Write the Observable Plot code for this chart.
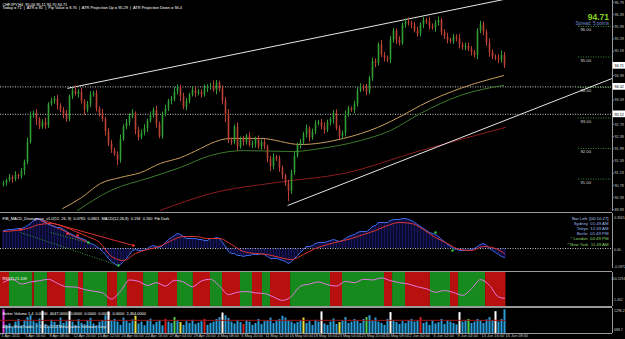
<!DOCTYPE html>
<html><head><meta charset="utf-8">
<script src="https://cdn.jsdelivr.net/npm/d3@7"></script>
<script src="https://cdn.jsdelivr.net/npm/@observablehq/plot@0.6"></script>
<style>
html,body{margin:0;padding:0;background:#000;}
#chart{position:relative;width:625px;height:339px;background:#000;overflow:hidden;}
#chart svg{position:absolute;left:0;}
</style></head>
<body><div id="chart"></div>
<script>
// ---------------- DATA ----------------
const title1 = "CHFJPY,H4  95.06 95.11 94.70 94.71";
const title2 = "Today = 71  |  ATR = 81  |  Pip Value = 8.76  |  ATR Projection Up = 95.29  |  ATR Projection Down = 94.4";
const bigPrice = "94.71";
const spreadText = "Spread: 5 points";
const firstOpen = 90.80;
const closes = [
 90.85, 90.95, 91.05, 90.98, 91.12, 91.08, 91.25, 91.55, 92.20, 93.10,
 93.15, 92.95, 92.70, 92.85, 92.75, 93.45, 93.55, 93.62, 93.40, 93.25,
 93.10, 92.95, 93.70, 93.88, 93.78, 93.85, 93.55, 93.25, 93.45, 93.75,
 93.80, 93.30, 93.15, 92.95, 92.55, 92.15, 91.95, 91.80, 91.62, 92.30,
 92.70, 92.85, 93.05, 93.15, 92.60, 92.35, 92.50, 92.65, 92.90, 93.10,
 93.25, 92.80, 92.40, 93.10, 93.30, 93.55, 93.60, 93.85, 94.00, 93.70,
 93.35, 93.55, 93.75, 93.90, 93.80, 93.85, 93.75, 93.95, 94.00, 94.02,
 93.90, 94.15, 93.95, 93.55, 93.10, 92.25, 92.20, 92.70, 92.05, 92.30,
 92.20, 92.40, 92.10, 92.15, 92.30, 92.05, 92.20, 92.05, 91.65, 91.40,
 91.70, 91.65, 91.35, 91.10, 90.85, 90.60, 91.20, 91.75, 92.10, 92.20,
 92.45, 92.65, 92.35, 92.55, 92.80, 92.85, 92.70, 92.60, 92.85, 92.95,
 93.15, 92.65, 92.40, 92.50, 93.10, 93.30, 93.25, 93.45, 93.90, 94.00,
 93.95, 93.85, 94.30, 94.85, 94.80, 95.40, 95.05, 94.95, 94.90, 95.55,
 95.85, 95.55, 95.45, 96.05, 96.15, 96.10, 96.05, 95.85, 95.75, 96.05,
 96.20, 96.15, 96.00, 95.95, 96.10, 96.20, 95.80, 95.65, 95.55, 95.50,
 95.65, 95.60, 95.40, 95.30, 95.35, 95.25, 95.15, 95.05, 95.85, 96.05,
 95.80, 95.45, 95.15, 95.00, 94.95, 94.90, 95.05, 94.71
];
// wick extensions above / below the body, in hundredths of a yen
const hiExt = [
 8,5,10,6,12,4,9,7,15,10, 8,12,6,9,14,5,10,8,12,7, 9,15,6,10,18,8,12,5,9,11,
 7,10,6,13,8,10,12,6,9,14, 7,10,8,12,5,9,11,13,6,10, 8,14,7,9,12,6,10,15,8,7,
 11,9,6,12,10,8,7,13,9,11, 20,8,6,10,12,18,9,7,14,8, 10,6,12,9,7,11,8,10,6,9,
 12,7,10,8,6,11,9,13,7,10, 8,12,6,9,11,7,10,14,8,6, 9,12,10,7,13,8,6,10,9,12,
 8,15,7,11,9,6,14,10,8,12, 9,7,11,6,10,13,8,9,12,7, 10,6,14,8,9,11,7,10,12,6,
 9,8,13,7,10,11,9,6,8,12, 10,9,14,8,7,12,15,10
];
const loExt = [
 6,9,5,12,7,10,8,14,9,6, 11,20,8,7,12,9,6,10,14,8, 12,9,7,10,6,13,9,16,8,11,
 7,10,12,8,14,9,11,6,18,10, 7,9,12,8,15,10,6,9,13,7, 11,14,8,10,6,9,12,7,10,16,
 8,11,9,6,13,8,10,7,12,9, 6,14,10,12,25,9,10,8,13,7, 12,9,6,10,14,8,11,9,12,16,
 10,8,13,12,9,35,10,8,7,12, 9,11,14,8,10,6,9,13,8,11, 15,7,10,9,12,8,6,11,10,7,
 9,12,8,10,15,9,7,11,8,12, 10,14,9,7,11,8,13,6,10,9, 12,8,11,7,14,9,10,8,12,6,
 9,11,13,8,10,7,12,9,14,8, 11,10,16,9,7,12,10,9
];
// moving averages (bar index, price)
const maOrangeIdx = [19.7, 26, 32.3, 39, 45.7, 52.3, 59, 65.7, 69, 75.7, 85.7, 99, 113.3, 124.7, 133.3, 139, 152.3, 166.7];
const maOrangeVal = [90.03, 90.39, 90.85, 91.05, 91.21, 91.51, 91.70, 92.00, 92.16, 92.33, 92.33, 92.13, 92.33, 92.69, 93.10, 93.41, 93.97, 94.39];
const maGreenIdx = [24.7, 35.7, 49, 59, 69, 80, 96.7, 105.7, 119, 129, 139, 152.3, 166.7];
const maGreenVal = [89.97, 90.62, 91.05, 91.38, 91.77, 91.93, 91.90, 92.00, 92.26, 92.59, 93.15, 93.74, 94.07];
const maRedIdx = [52.3, 69, 91.3, 113.3, 139, 167.3];
const maRedVal = [89.97, 90.52, 90.89, 91.18, 91.93, 92.69];
// trend lines: [x1, y1, x2, y2] in (bar index, price)
const trendUpper = [21.3, 93.97, 170, 96.95];
const trendLower = [94.7, 90.13, 203, 94.30];
const hLines = [94.02, 93.12];
const levelLines = [96, 95, 94, 93, 92, 91];
const priceTicks = [96.79, 96.39, 95.99, 95.59, 95.19, 94.39, 93.59, 92.79, 92.39, 91.99, 91.59, 91.19, 90.79, 90.39, 89.99];
const boxedPrices = [94.71, 94.02, 93.12];

// MACD panel
const macdLabel = "FIB_MACD_Divergence_v1.0(12, 26, 9)  0.0765  0.0801  MACD(12,26,9)  0.194  0.160  Fib Dark";
const macd = [
 0.18,0.185,0.19,0.19,0.195,0.20,0.20,0.21,0.23,0.25,
 0.28,0.30,0.29,0.28,0.26,0.24,0.23,0.22,0.21,0.21,
 0.19,0.17,0.15,0.14,0.12,0.11,0.10,0.09,0.07,0.05,
 0.04,0.02,0.00,-0.03,-0.06,-0.10,-0.13,-0.15,-0.17,-0.16,
 -0.13,-0.10,-0.06,-0.02,-0.01,-0.02,-0.02,-0.02,0.00,0.02,
 0.03,0.02,0.01,0.03,0.06,0.09,0.11,0.13,0.15,0.14,
 0.12,0.10,0.10,0.10,0.10,0.09,0.09,0.08,0.08,0.10,
 0.10,0.11,0.10,0.06,0.02,-0.03,-0.05,-0.05,-0.07,-0.07,
 -0.08,-0.07,-0.07,-0.06,-0.06,-0.06,-0.05,-0.06,-0.08,-0.10,
 -0.10,-0.10,-0.11,-0.12,-0.13,-0.15,-0.13,-0.10,-0.07,-0.04,
 -0.01,0.02,0.02,0.03,0.05,0.06,0.06,0.06,0.07,0.08,
 0.09,0.08,0.07,0.08,0.10,0.12,0.13,0.14,0.16,0.17,
 0.17,0.17,0.19,0.22,0.23,0.26,0.26,0.26,0.26,0.28,
 0.29,0.29,0.29,0.30,0.30,0.29,0.28,0.26,0.24,0.22,
 0.20,0.18,0.16,0.15,0.14,0.12,0.09,0.07,0.04,0.02,
 0.00,-0.01,-0.02,-0.02,-0.02,-0.02,-0.01,0.00,0.02,0.04,
 0.05,0.03,0.00,-0.02,-0.04,-0.06,-0.08,-0.09
];
const sigIdx = [0,4,8,12,16,20,24,28,32,36,40,44,48,52,56,60,64,68,72,76,80,84,88,92,96,100,104,108,112,116,120,124,128,132,136,140,144,148,152,156,160,164,167];
const sigVal = [0.17,0.18,0.20,0.24,0.25,0.22,0.17,0.12,0.06,-0.08,-0.12,-0.05,-0.01,0.02,0.08,0.12,0.12,0.10,0.10,0.04,-0.03,-0.05,-0.06,-0.09,-0.11,-0.06,0.00,0.04,0.07,0.10,0.14,0.18,0.23,0.26,0.25,0.19,0.11,0.05,-0.01,-0.02,0.02,0.00,-0.05];
const divRed = {x1:[10.7, 12.3, 21.3], y1:[0.30, 0.28, 0.15], x2:[43.3, 22.3, 28.3], y2:[0.03, 0.15, 0.06]};
const divGreen = {x1:[5.7, 15.7], y1:[0.16, 0.16], x2:[38.3, 29], y2:[-0.17, 0.05]};
const dotRedIdx = [5.7, 21.3, 24.7, 43.3], dotRedVal = [0.19, 0.15, 0.13, 0.03];
const dotGreenIdx = [28.3, 38.3, 144, 149.7], dotGreenVal = [0.06, -0.17, 0.16, -0.02];
const clockLines = ["Bar Left: [00:10:27]", "Sydney  01:49 AM", "Tokyo  12:49 AM", "Berlin  05:49 PM", "* London  04:49 PM", "* New York  11:49 AM"];
const clockColors = ["#b9c9f5", "#9fb6ee", "#9fb6ee", "#9fb6ee", "#8ed46a", "#8ed46a"];
const macdRight = ["0.3565", "0.00", "-0.1872"];

// RSI panel
const rsiLabel = "RSI(7) 21.109";
const rsiIdx = [0,3,6,9,12,15,18,21,24,27,30,33,36,39,42,45,48,51,54,57,60,63,66,69,72,75,78,81,84,87,90,93,96,99,102,105,108,111,114,117,120,123,126,129,132,135,138,141,144,147,150,153,156,159,162,165,167];
const rsiVal = [71,80,66,72,76,80,68,58,57,50,45,40,22,45,78,74,62,70,60,77,72,58,75,80,60,35,42,44,40,38,28,18,30,60,66,72,64,60,74,70,80,78,84,76,70,66,58,52,42,47,41,33,52,79,62,28,24];
const segStart = [-1, 2, 9.7, 10.3, 14.7, 20.7, 25, 26.7, 34.7, 38, 41.3, 46.7, 51.7, 58, 63.3, 69, 73, 79, 83, 86.3, 89, 95.7, 109, 113, 127, 129.7, 134, 142.3, 149, 151.7, 160.7];
const segEnd   = [2, 9.7, 10.3, 14.7, 20.7, 25, 26.7, 34.7, 38, 41.3, 46.7, 51.7, 58, 63.3, 69, 73, 79, 83, 86.3, 89, 95.7, 109, 113, 127, 129.7, 134, 142.3, 149, 151.7, 160.7, 167.5];
const segColor = ["r","g","r","g","r","g","r","g","r","g","r","g","r","g","r","g","r","g","r","g","r","g","r","g","r","g","r","g","r","g","r"];
const rsiRight = ["100.1294", "1.262"];

// Volume panel
const volLabel = "Better Volume 1.4  0.0000  4047.0000  0.0000  0.0000  0.0000  0.0000  2,464.0000";
const copyright = "Alpari MetaTrader, \u00a9 2001-2011 MetaQuotes Software Corp.";
const volume = [
 1250,560,620,480,700,820,540,760,900,980,
 720,650,840,1180,600,520,780,690,560,880,
 640,720,1160,700,560,810,650,590,760,870,
 620,540,700,760,980,1150,760,820,700,560,
 880,740,650,800,960,620,700,540,760,830,
 580,690,760,540,820,700,640,900,760,680,
 560,720,640,780,600,660,720,820,560,640,
 700,820,900,1100,980,860,700,620,760,680,
 600,760,700,560,640,820,600,720,760,880,
 640,760,820,960,880,760,700,620,680,760,
 880,640,720,560,780,700,1150,620,560,700,
 840,600,680,760,900,640,700,820,760,640,
 820,900,980,760,880,700,640,560,820,1120,
 760,680,600,720,640,760,820,700,760,900,
 640,700,560,760,620,680,820,600,760,700,
 640,580,1120,700,760,820,640,700,820,760,
 640,800,900,760,1160,700,820,1240
];
const volWhiteIdx = [13, 22, 35, 73, 106, 129, 152, 164];
const volGreenIdx = [57, 121, 155];
const volYellowIdx = [44, 59, 100, 112];
const volRedIdx = [54, 67, 80, 139];
const volMagentaIdx = [0];
const volAvgLevel = 780;
const volRight = ["1296.2", "688.7"];
const timeLabels = ["1 Apr 2011","5 Apr 16:00","8 Apr 08:00","12 Apr 20:00","15 Apr 12:00","20 Apr 00:00","22 Apr 16:00","27 Apr 04:00","29 Apr 20:00","4 May 08:00","6 May 20:00","11 May 12:00","16 May 00:00","18 May 16:00","23 May 04:00","25 May 20:00","30 May 08:00","2 Jun 00:00","6 Jun 12:00","9 Jun 04:00","13 Jun 16:00","16 Jun 08:00"];
const timeIdx = [-1,7,15,23,31,39,47,55,63,71,79,87,95,103,111,119,127,135,143,151,159,167];

// ---------------- BUILD ----------------
const FONT = "Liberation Sans, Arial, sans-serif";
const UP = "#2f9f36", DN = "#bd4136", AXIS = "#9a9a9a", LBL = "#c8c8c8";
const chart = document.getElementById("chart");

const candles = closes.map((c, i) => {
  const o = i === 0 ? firstOpen : closes[i - 1];
  return {i, open: o, close: c,
    high: Math.max(o, c) + (hiExt[i] ?? 8) / 100,
    low: Math.min(o, c) - (loExt[i] ?? 8) / 100};
});
const pts = (xs, ys) => xs.map((x, k) => ({x, y: ys[k]}));
const links = o => o.x1.map((_, k) => ({x1: o.x1[k], y1: o.y1[k], x2: o.x2[k], y2: o.y2[k]}));
const macdData = macd.map((v, i) => ({i, v}));
const segs = segStart.map((s, k) => ({s, e: segEnd[k], c: segColor[k] === "r" ? "#b80f0f" : "#168a1c"}));
const volColor = i => volMagentaIdx.includes(i) ? "#e040e0" : volWhiteIdx.includes(i) ? "#ffffff" :
  volGreenIdx.includes(i) ? "#4fd34f" : volYellowIdx.includes(i) ? "#e6e040" : volRedIdx.includes(i) ? "#d42020" : "#2a9fdc";
const volData = volume.map((v, i) => ({i, v, c: volColor(i)}));

const txt = (s, o) => Plot.text([s], {text: d => d, textAnchor: "start", fontSize: 4, fill: "#fff", fontFamily: FONT, ...o});

function panel(top, height, mt, mb, yd, marks) {
  const svg = Plot.plot({
    width: 625, height, marginLeft: 0, marginRight: 13, marginTop: mt, marginBottom: mb,
    x: {type: "linear", domain: [-1, 203], axis: null},
    y: {type: "linear", domain: yd, axis: null},
    color: {type: "identity"},
    style: {background: "transparent", fontFamily: FONT, overflow: "visible"},
    marks
  });
  svg.style.top = top + "px";
  chart.appendChild(svg);
}

// main price panel
panel(0, 211, 0, 0, [89.934, 96.852], [
  Plot.ruleY(levelLines, {x1: 191.7, x2: 202.7, stroke: "#3a8f3a", strokeDasharray: "1,1.5"}),
  Plot.text(levelLines, {x: 192.3, y: d => d, dy: 3.5, text: d => d.toFixed(2), textAnchor: "start", fontSize: 4.3, fill: "#d4d4d4", fontFamily: FONT}),
  Plot.ruleY(hLines, {stroke: "#dedede", strokeDasharray: "1,1.5", strokeWidth: 0.9}),
  Plot.line(pts(maRedIdx, maRedVal), {x: "x", y: "y", curve: "monotone-x", stroke: "#8a1c1c", strokeWidth: 1, clip: true}),
  Plot.line(pts(maGreenIdx, maGreenVal), {x: "x", y: "y", curve: "monotone-x", stroke: "#3d7a2a", strokeWidth: 1, clip: true}),
  Plot.line(pts(maOrangeIdx, maOrangeVal), {x: "x", y: "y", curve: "monotone-x", stroke: "#c99c5c", strokeWidth: 1, clip: true}),
  Plot.link([trendUpper, trendLower], {x1: d => d[0], y1: d => d[1], x2: d => d[2], y2: d => d[3], stroke: "#e6e6e6", strokeWidth: 1, clip: true}),
  Plot.ruleX(candles, {x: "i", y1: "low", y2: "high", stroke: d => d.close >= d.open ? UP : DN, strokeWidth: 1}),
  Plot.ruleX(candles, {x: "i", y1: "open", y2: "close", stroke: d => d.close >= d.open ? UP : DN, strokeWidth: 1.6}),
  Plot.ruleX([203], {stroke: AXIS}),
  Plot.ruleY(priceTicks, {x1: 203, x2: 203.6, stroke: AXIS}),
  Plot.text(priceTicks, {x: 203, y: d => d, dx: 2, text: d => d.toFixed(2), textAnchor: "start", fontSize: 3.7, fill: LBL, fontFamily: FONT}),
  Plot.rect(boxedPrices, {x1: 203.2, x2: 208, y1: d => d - 0.11, y2: d => d + 0.11, fill: "#ffffff"}),
  Plot.text(boxedPrices, {x: 203, y: d => d, dx: 2, text: d => d.toFixed(2), textAnchor: "start", fontSize: 3.7, fill: "#000", fontFamily: FONT}),
  txt(title1, {frameAnchor: "top-left", dx: 2, dy: 2.3, fontSize: 3.9}),
  txt(title2, {frameAnchor: "top-left", dx: 2, dy: 6, fontSize: 3.9}),
  txt(bigPrice, {frameAnchor: "top-right", dx: -3.5, dy: 13, textAnchor: "end", fontSize: 8.5, fontWeight: "bold", fill: "#86d31c"}),
  txt(spreadText, {frameAnchor: "top-right", dx: -3.5, dy: 21.5, textAnchor: "end", fontSize: 4.6, fill: "#6f8fd0"})
]);

// MACD panel
panel(211, 57, 2, 0, [-0.20, 0.35], [
  Plot.ruleY([0.35], {stroke: AXIS, dy: -1}),
  Plot.ruleX(macdData, {x: "i", y1: 0, y2: "v", stroke: "#16165f", strokeWidth: 2}),
  Plot.ruleY([0], {stroke: "#d0d0d0", strokeDasharray: "1,1.5", strokeWidth: 0.9}),
  Plot.link(links(divGreen), {x1: "x1", y1: "y1", x2: "x2", y2: "y2", stroke: "#3a9a3a", strokeDasharray: "1,1.5"}),
  Plot.link(links(divRed), {x1: "x1", y1: "y1", x2: "x2", y2: "y2", stroke: "#d83030", strokeWidth: 1}),
  Plot.line(macdData, {x: "i", y: "v", stroke: "#3f6df0", strokeWidth: 1}),
  Plot.line(pts(sigIdx, sigVal), {x: "x", y: "y", curve: "monotone-x", stroke: "#e03535", strokeWidth: 1}),
  Plot.dot(pts(dotRedIdx, dotRedVal), {x: "x", y: "y", r: 1.3, fill: "#ff3030"}),
  Plot.dot(pts(dotGreenIdx, dotGreenVal), {x: "x", y: "y", r: 1.3, fill: "#30c030"}),
  Plot.ruleX([203], {stroke: AXIS}),
  txt(macdLabel, {frameAnchor: "top-left", dx: 2, dy: 3.5, fontSize: 3.9}),
  ...clockLines.map((s, k) => txt(s, {frameAnchor: "top-right", dx: -4, dy: 3.5 + k * 5.1, textAnchor: "end", fontSize: 4.3, fill: clockColors[k]})),
  txt(macdRight[0], {frameAnchor: "top-right", dx: 1.5, dy: 3, fontSize: 3.5, fill: LBL}),
  Plot.text([0], {x: 203, y: d => d, dx: 1.5, dy: 1, text: () => macdRight[1], textAnchor: "start", fontSize: 3.5, fill: LBL, fontFamily: FONT}),
  txt(macdRight[2], {frameAnchor: "bottom-right", dx: 1.5, dy: -1, fontSize: 3.5, fill: LBL})
]);

// RSI panel
panel(269, 37, 3, 0, [0, 100], [
  Plot.rect(segs, {x1: "s", x2: "e", y1: 0, y2: 100, fill: "c"}),
  Plot.line(pts(rsiIdx, rsiVal), {x: "x", y: "y", curve: "monotone-x", stroke: "#e07ae0", strokeWidth: 1}),
  Plot.ruleY([100], {stroke: AXIS, dy: -1}),
  Plot.ruleY([0], {stroke: AXIS}),
  Plot.ruleX([203], {stroke: AXIS}),
  txt(rsiLabel, {frameAnchor: "top-left", dx: 2, dy: 5, fontSize: 3.9}),
  txt(rsiRight[0], {frameAnchor: "top-right", dx: 12.5, dy: 5, textAnchor: "end", fontSize: 3.3, fill: LBL}),
  txt(rsiRight[1], {frameAnchor: "bottom-right", dx: 1.5, dy: -6, fontSize: 3.5, fill: LBL})
]);

// Volume panel + time axis
panel(306, 33, 2, 6, [200, 1300], [
  Plot.ruleY([1300], {stroke: AXIS, dy: -1}),
  Plot.ruleX(volData, {x: "i", y1: 200, y2: "v", stroke: "c", strokeWidth: 2}),
  Plot.ruleY([volAvgLevel], {x1: -1, x2: 167.5, stroke: "#a01414", strokeWidth: 1}),
  Plot.ruleY([200], {stroke: AXIS}),
  Plot.ruleX([203], {stroke: AXIS}),
  Plot.ruleX(timeIdx, {y1: 200, y2: 140, stroke: AXIS}),
  Plot.text(timeIdx, {x: d => d, frameAnchor: "bottom", dy: 3.6, dx: 1, text: (d, k) => timeLabels[k], textAnchor: "start", fontSize: 3.9, fill: LBL, fontFamily: FONT}),
  txt(volLabel, {frameAnchor: "top-left", dx: 2, dy: 3.5, fontSize: 3.9}),
  txt(copyright, {frameAnchor: "bottom-left", dx: 2, dy: -5.5, fontSize: 3.9, fill: "#e8e8e8"}),
  txt(volRight[0], {frameAnchor: "top-right", dx: 1.5, dy: 1, fontSize: 3.5, fill: LBL}),
  txt(volRight[1], {frameAnchor: "bottom-right", dx: 1.5, dy: -3, fontSize: 3.5, fill: LBL})
]);
</script>
</body></html>
